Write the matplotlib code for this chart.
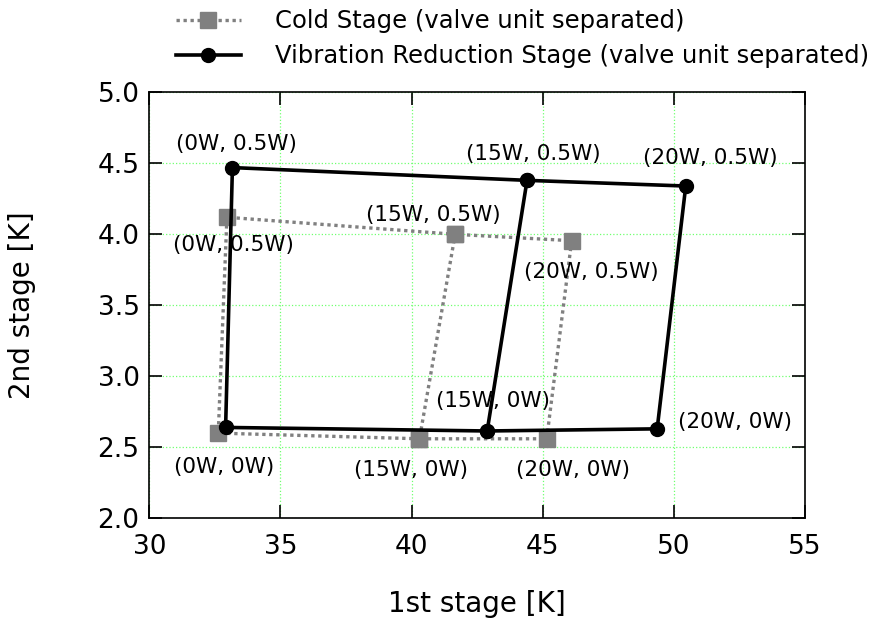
import matplotlib
matplotlib.use("Agg")
import matplotlib.pyplot as plt

# load points: (1st stage heater, 2nd stage heater)
loads = ["(0W, 0W)", "(15W, 0W)", "(20W, 0W)", "(0W, 0.5W)", "(15W, 0.5W)", "(20W, 0.5W)"]

cold_x = [32.63, 40.30, 45.15, 32.96, 41.66, 46.10]
cold_y = [2.60, 2.56, 2.56, 4.12, 4.00, 3.955]

vib_x = [32.91, 42.88, 49.36, 33.17, 44.40, 50.45]
vib_y = [2.64, 2.615, 2.63, 4.47, 4.38, 4.34]

# order the points are joined in (one stroke through the load map)
path = [1, 0, 3, 4, 5, 2, 1, 4]

# label offsets in points, None = no label
cold_off = [(4, -24.5), (-6, -22.3), (19, -22.3), (5, -19.7), (-16, 13.7), (14, -22.3)]
vib_off = [None, (4, 21.6), (56, 4.6), (3, 16.8), (4.5, 18.7), (17.5, 20.2)]

fig = plt.figure(figsize=(8.78, 6.31), dpi=100)
ax = fig.add_axes([0.170, 0.1786, 0.747, 0.6751])

ax.plot([cold_x[i] for i in path], [cold_y[i] for i in path],
        color="#808080", lw=2.4, ls=(0, (1, 1.1)), marker="s", ms=11,
        mec="#808080", mfc="#808080", zorder=3,
        label="Cold Stage (valve unit separated)")
ax.plot([vib_x[i] for i in path], [vib_y[i] for i in path],
        color="black", lw=2.6, marker="o", ms=10, zorder=4,
        label="Vibration Reduction Stage (valve unit separated)")

for i, txt in enumerate(loads):
    if cold_off[i] is not None:
        ax.annotate(txt, (cold_x[i], cold_y[i]), xytext=cold_off[i],
                    textcoords="offset points", ha="center", va="center",
                    fontsize=15.5, zorder=5)
    if vib_off[i] is not None:
        ax.annotate(txt, (vib_x[i], vib_y[i]), xytext=vib_off[i],
                    textcoords="offset points", ha="center", va="center",
                    fontsize=15.5, zorder=5)

ax.set_xlim(30, 55)
ax.set_ylim(2.0, 5.0)
ax.set_xticks([30, 35, 40, 45, 50, 55])
ax.set_yticks([2.0, 2.5, 3.0, 3.5, 4.0, 4.5, 5.0])
ax.set_yticklabels(["%.1f" % v for v in ax.get_yticks()])
ax.tick_params(direction="in", length=9.5, width=1.2, labelsize=19,
               top=True, right=True)
ax.tick_params(axis="x", pad=11)
ax.tick_params(axis="y", pad=7)
for s in ax.spines.values():
    s.set_linewidth(1.2)
ax.grid(True, color="#70ff70", ls=":", lw=0.9)
ax.set_axisbelow(True)

ax.set_xlabel("1st stage [K]", fontsize=20, labelpad=22)
ax.set_ylabel("2nd stage [K]", fontsize=20, labelpad=44)

fig.legend(loc="upper left", bbox_to_anchor=(0.2, 0.985), frameon=False,
           fontsize=17.5, handlelength=2.7, handletextpad=1.4,
           labelspacing=0.45, borderpad=0, borderaxespad=0)

fig.savefig("out.png", dpi=100)
